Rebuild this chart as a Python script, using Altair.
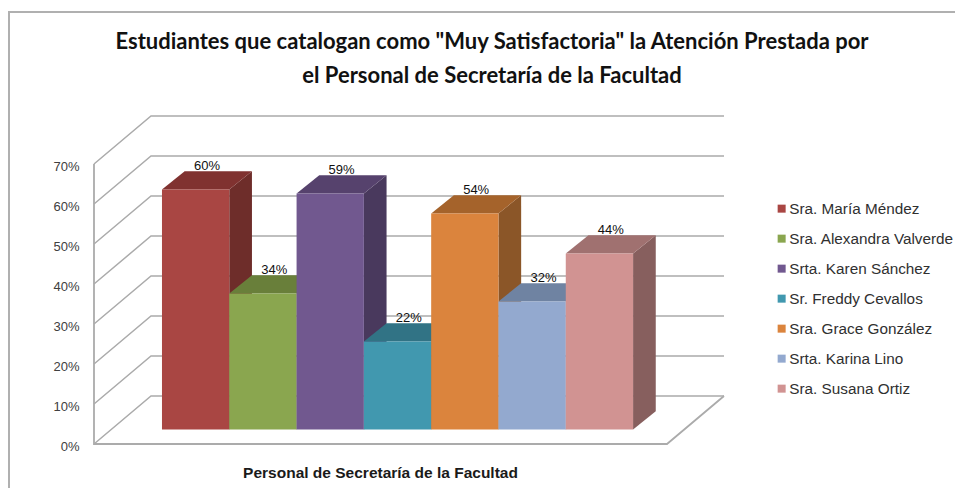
import altair as alt
import pandas as pd

names = ["Sra. María Méndez", "Sra. Alexandra Valverde", "Srta. Karen Sánchez", "Sr. Freddy Cevallos",
         "Sra. Grace González", "Srta. Karina Lino", "Sra. Susana Ortiz"]
values = [60, 34, 59, 22, 54, 32, 44]
front_colors = ["#A94643", "#8AA64F", "#71588F", "#4198AF", "#DB843D", "#93A9CF", "#D19392"]
top_colors = ["#803230", "#697F3A", "#56426D", "#317385", "#A5632B", "#6F83A2", "#A07170"]
side_colors = ["#6E2D2A", "#5A6D32", "#49395D", "#2A6272", "#8B5628", "#5F708B", "#875F5E"]
levels = [0, 10, 20, 30, 40, 50, 60, 70]

WALL_DX, WALL_DY = 0.847, 12
DEPTH_X, DEPTH_Y = 0.337, 4.6
BASE, FIRST = 3.6, 1.01
FLOOR_END = 8.514
XMAX, YMAX = 9.361, 82

x_scale = alt.Scale(domain=[0, XMAX], nice=False, zero=False)
y_scale = alt.Scale(domain=[0, YMAX], nice=False, zero=False)
X = alt.X("x:Q", scale=x_scale, axis=alt.Axis(
    title="Personal de Secretaría de la Facultad", labels=False, ticks=False, domain=False, grid=False,
    titleX=286, titleY=28, titleBaseline="middle", titleFont="Liberation Sans", titleFontSize=15.5,
    titleFontWeight="bold", titleColor="#1a1a1a"))
Y = alt.Y("y:Q", scale=y_scale, axis=alt.Axis(
    title=None, values=levels, labelExpr="datum.value + '%'", ticks=False, domain=False, grid=False,
    labelPadding=15, labelOffset=2, labelFont="Liberation Sans", labelFontSize=13, labelColor="#404040"))
Y2 = alt.Y2("y2:Q")

grid_rows = []
for lv in levels:
    grid_rows += [dict(lv=lv, s=0, x=0, y=lv), dict(lv=lv, s=1, x=WALL_DX, y=lv + WALL_DY),
                  dict(lv=lv, s=2, x=XMAX, y=lv + WALL_DY)]
grid = alt.Chart(pd.DataFrame(grid_rows)).mark_line(color="#ababab", strokeWidth=1.5).encode(
    x=X, y=Y, detail="lv:N", order="s:Q")

outline = pd.DataFrame([dict(x=0, y=70), dict(x=0, y=0), dict(x=FLOOR_END, y=0), dict(x=XMAX, y=WALL_DY)])
outline["s"] = range(4)
outline_layer = alt.Chart(outline).mark_line(color="#ababab", strokeWidth=1.8).encode(
    x=X, y=Y, order="s:Q")

layers = [grid, outline_layer]
for i, v in enumerate(values):
    L, R = FIRST + i, FIRST + i + 1
    t = BASE + v
    side = pd.DataFrame([dict(x=R, y=BASE, y2=t), dict(x=R + DEPTH_X, y=BASE + DEPTH_Y, y2=t + DEPTH_Y)])
    top = pd.DataFrame([dict(x=L, y=t, y2=t), dict(x=L + DEPTH_X, y=t, y2=t + DEPTH_Y),
                        dict(x=R, y=t, y2=t + DEPTH_Y), dict(x=R + DEPTH_X, y=t + DEPTH_Y, y2=t + DEPTH_Y)])
    layers.append(alt.Chart(side).mark_area(color=side_colors[i]).encode(x=X, y=Y, y2=Y2))
    layers.append(alt.Chart(top).mark_area(color=top_colors[i]).encode(x=X, y=Y, y2=Y2))

bars = pd.DataFrame({
    "name": names, "value": values,
    "x": [FIRST + i for i in range(7)], "x2": [FIRST + i + 1 for i in range(7)],
    "y": [BASE] * 7, "y2": [BASE + v for v in values],
})
fronts = alt.Chart(bars).mark_rect().encode(
    x=X, x2="x2:Q", y=Y, y2=Y2,
    color=alt.Color("name:N", sort=names, scale=alt.Scale(domain=names, range=front_colors), legend=alt.Legend(
        title=None, orient="none", legendX=680, legendY=85, symbolType="square", symbolSize=64,
        symbolStrokeWidth=0, labelFont="Liberation Sans", labelFontSize=15.3, labelColor="#303030",
        labelOffset=0, rowPadding=14, labelLimit=220)))
layers.append(fronts)

label_df = pd.DataFrame({
    "x": [FIRST + i + 0.5 + DEPTH_X / 2 for i in range(7)],
    "y": [BASE + v + DEPTH_Y for v in values],
    "label": [f"{v}%" for v in values],
})
labels = alt.Chart(label_df).mark_text(font="Liberation Sans", fontSize=13, color="#111111", baseline="alphabetic", dy=-1).encode(
    x=X, y=Y, text="label:N")
layers.append(labels)

frame_top = alt.Chart(pd.DataFrame({"a": [0]})).mark_rule(color="#b0b0b0", strokeWidth=2).encode(
    x=alt.value(-86), x2=alt.value(861), y=alt.value(-104))
frame_left = alt.Chart(pd.DataFrame({"a": [0]})).mark_rule(color="#b0b0b0", strokeWidth=2).encode(
    x=alt.value(-85), y=alt.value(-104), y2=alt.value(372))
layers += [frame_top, frame_left]

chart = alt.layer(*layers).properties(
    width=630, height=328, autosize="none", background="white",
    padding={"left": 86, "top": 108, "right": 231, "bottom": 44},
    title=alt.TitleParams(
        text=['Estudiantes que catalogan como "Muy Satisfactoria" la Atención Prestada por',
              'el Personal de Secretaría de la Facultad'],
        anchor="middle", dx=83, offset=-77, font="Lato", fontSize=22, fontWeight="bold", color="#111111",
        lineHeight=34),
).configure_view(stroke=None)
chart.save("out.html", embed_options={"renderer": "svg", "actions": False})
